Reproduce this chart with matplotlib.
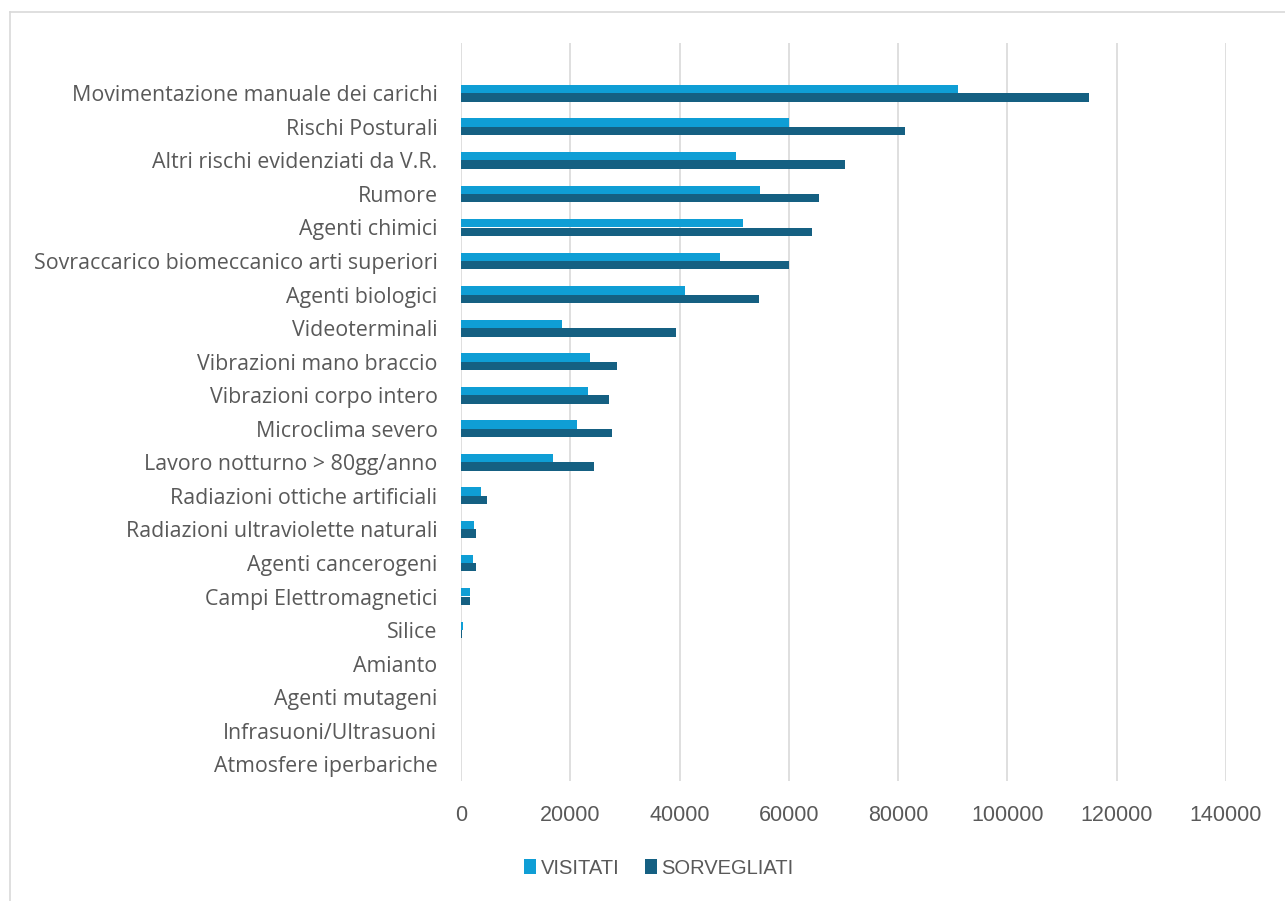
import matplotlib
matplotlib.use("Agg")
import matplotlib.pyplot as plt
from matplotlib.lines import Line2D
import numpy as np

# data
categories = [
    "Movimentazione manuale dei carichi",
    "Rischi Posturali",
    "Altri rischi evidenziati da V.R.",
    "Rumore",
    "Agenti chimici",
    "Sovraccarico biomeccanico arti superiori",
    "Agenti biologici",
    "Videoterminali",
    "Vibrazioni mano braccio",
    "Vibrazioni corpo intero",
    "Microclima severo",
    "Lavoro notturno > 80gg/anno",
    "Radiazioni ottiche artificiali",
    "Radiazioni ultraviolette naturali",
    "Agenti cancerogeni",
    "Campi Elettromagnetici",
    "Silice",
    "Amianto",
    "Agenti mutageni",
    "Infrasuoni/Ultrasuoni",
    "Atmosfere iperbariche",
]
visitati = [91000, 60000, 50300, 54800, 51600, 47400, 41000, 18400, 23600, 23300,
            21300, 16900, 3600, 2400, 2200, 1700, 400, 60, 40, 30, 20]
sorvegliati = [114900, 81200, 70200, 65500, 64300, 60100, 54500, 39300, 28500, 27000,
               27700, 24300, 4700, 2800, 2700, 1700, 250, 80, 50, 30, 20]
xticks = [0, 20000, 40000, 60000, 80000, 100000, 120000, 140000]

c_vis = "#0F9ED5"
c_sor = "#156082"
txt = "#595959"

plt.rcParams['font.family'] = ['Liberation Sans', 'DejaVu Sans']

fig = plt.figure(figsize=(12.85, 9.01), dpi=100)
ax = fig.add_axes([461 / 1285, 1 - 781 / 901, (1226 - 461) / 1285, (781 - 43) / 901])

y = np.arange(len(categories))
h = 0.25
ax.barh(y - h / 2, visitati, height=h, color=c_vis, label="VISITATI", zorder=3)
ax.barh(y + h / 2, sorvegliati, height=h, color=c_sor, label="SORVEGLIATI", zorder=3)

ax.set_xlim(0, 140000)
ax.set_ylim(len(categories) - 0.5, -1.5)
ax.set_xticks(xticks)
ax.set_xticklabels([str(v) for v in xticks], fontsize=15.5)
ax.set_yticks(y)
ax.set_yticklabels(categories, family=['Open Sans', 'DejaVu Sans'], fontsize=15.4)
ax.tick_params(axis='both', length=0, colors=txt)
ax.tick_params(axis='x', pad=17)
ax.tick_params(axis='y', pad=17)
ax.grid(axis='x', color="#d9d9d9", linewidth=1.2, zorder=0)
for s in ax.spines.values():
    s.set_visible(False)

leg = fig.legend(loc='center', bbox_to_anchor=(659 / 1285, 1 - 868 / 901), ncol=2,
                 frameon=False, fontsize=14.5, handlelength=0.6, handleheight=0.8,
                 columnspacing=1.3, handletextpad=0.2)
for t in leg.get_texts():
    t.set_color(txt)

# chart border (left and top visible)
fig.add_artist(Line2D([10 / 1285, 10 / 1285], [0, 1 - 12 / 901], transform=fig.transFigure,
                      color="#d9d9d9", linewidth=1.2))
fig.add_artist(Line2D([10 / 1285, 1], [1 - 12 / 901, 1 - 12 / 901], transform=fig.transFigure,
                      color="#d9d9d9", linewidth=1.2))

fig.savefig("out.png", dpi=100, facecolor="white")
